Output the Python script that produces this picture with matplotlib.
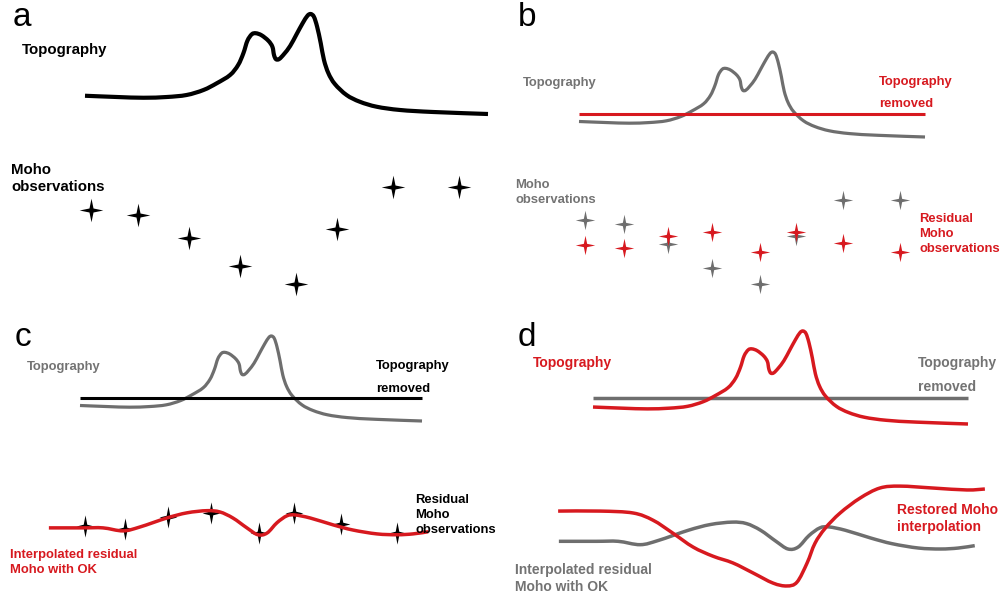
import numpy as np
import matplotlib
matplotlib.use("Agg")
import matplotlib.pyplot as plt
from matplotlib.path import Path
from matplotlib.patches import PathPatch

W, H = 1000, 600
RED = "#d7191f"
GRAY = "#6e6e6e"
GRAY_TXT = "#737373"
FONT = "Liberation Sans"

# Topographic profile: distance along profile (km) and elevation (km)
profile_km = [0, 7.9, 14.5, 20.3, 25.2, 29.4, 32.7, 36.0, 38.0, 39.3, 40.3,
              41.4, 42.4, 43.8, 45.5, 46.5, 46.9, 47.4, 48.2, 49.4, 50.9,
              52.5, 54.0, 55.2, 56.0, 56.8, 57.6, 58.5, 59.3, 60.4, 62.0,
              64.9, 68.2, 72.4, 78.2, 86.4, 100]
topo_elev = [0.73, 0.68, 0.65, 0.68, 0.76, 0.96, 1.23, 1.56, 1.96, 2.43,
             2.93, 3.19, 3.23, 3.15, 2.93, 2.69, 2.36, 2.19, 2.20, 2.40,
             2.72, 3.19, 3.63, 3.93, 4.00, 3.89, 3.49, 2.83, 2.16, 1.63,
             1.20, 0.76, 0.49, 0.29, 0.16, 0.08, 0.0]

# Mean elevation used as the removed topography level
ref_km = [0, 100]
ref_elev = [1.1, 1.1]

# Moho observations (depth, km) and residuals after topography removal
station_km = [1.6, 13.1, 25.7, 38.4, 52.3, 62.6, 76.4, 92.7]
moho_depth = [34.6, 35.6, 40.2, 45.8, 49.4, 38.4, 30.0, 30.0]
residual_depth = [40.4, 41.1, 38.3, 37.4, 42.0, 37.4, 39.9, 42.0]

# Ordinary kriging of the residual Moho
ok_km = [-9.1, 0.9, 6.7, 12.6, 17.5, 25.4, 31.3, 37.1, 40.9, 44.7, 48.8,
         52.0, 54.7, 57.6, 60.5, 62.9, 67.3, 74.0, 79.8, 86.8, 92.7, 97.4,
         101.8]
ok_depth = [40.9, 40.9, 40.9, 41.6, 40.7, 38.6, 37.4, 36.9, 37.2, 38.6,
            40.9, 42.5, 42.1, 39.7, 38.1, 37.9, 38.6, 40.2, 41.4, 42.3,
            42.5, 42.3, 41.8]

# Restored Moho interpolation
restored_km = [-9.3, 1.9, 10.7, 16.0, 21.3, 26.7, 32.0, 37.3, 42.7, 48.0,
               51.7, 54.4, 57.1, 59.2, 61.9, 65.9, 71.2, 76.5, 81.9, 90.7,
               99.7, 104.5]
restored_depth = [34.6, 34.6, 35.0, 36.5, 39.2, 42.1, 44.0, 45.4, 47.5,
                  49.6, 50.2, 49.4, 45.4, 41.3, 38.2, 35.0, 31.9, 29.8,
                  29.4, 29.8, 30.2, 30.0]

# placement of each panel: x-origin, px per km, topo baseline, px per km
# of elevation, Moho offset, px per km of depth
PLACE = {
    "a": (85, 4.03, 114, 25.0, 37.0, 5.0),
    "b": (579, 3.46, 137, 21.25, 71.2, 4.3),
    "c": (80, 3.42, 421, 21.25, 352.0, 4.3),
    "d": (593, 3.75, 424, 23.25, 345.0, 4.8),
}


def star_path(sx=1.0, sy=1.0, k=0.17):
    verts = [(0, sy), (k, k), (sx, 0), (k, -k), (0, -sy), (-k, -k),
             (-sx, 0), (-k, k), (0, sy)]
    codes = [Path.MOVETO] + [Path.LINETO] * 7 + [Path.CLOSEPOLY]
    return Path(verts, codes)


STAR = star_path()
STAR_TALL = star_path(0.8, 1.0, 0.16)

fig = plt.figure(figsize=(10, 6), dpi=100)


def panel_axes(key):
    x0, sx, ty0, tsy, mc, mk = PLACE[key]
    top = fig.add_axes([0, 0, 1, 1], label=key + "-topo")
    top.set_xlim(-x0 / sx, (W - x0) / sx)
    top.set_ylim((ty0 - H) / tsy, ty0 / tsy)
    top.axis("off")
    moho = fig.add_axes([0, 0, 1, 1], label=key + "-moho")
    moho.set_xlim(-x0 / sx, (W - x0) / sx)
    moho.set_ylim((H - mc) / mk, -mc / mk)
    moho.axis("off")
    return top, moho


def smooth(ax, x, y, color, lw, zorder=2):
    """Draw a Catmull-Rom curve through the given points as Bezier segments."""
    p = np.column_stack([x, y]).astype(float)
    n = len(p)
    verts, codes = [p[0]], [Path.MOVETO]
    for i in range(n - 1):
        p0 = p[max(i - 1, 0)]
        p1, p2 = p[i], p[i + 1]
        p3 = p[min(i + 2, n - 1)]
        verts += [p1 + (p2 - p0) / 6, p2 - (p3 - p1) / 6, p2]
        codes += [Path.CURVE4] * 3
    ax.add_patch(PathPatch(Path(verts, codes), fill=False, edgecolor=color,
                           lw=lw, capstyle="butt", joinstyle="round",
                           zorder=zorder))


def label(x, y, text, color="black", size=9.4, step=15, weight="bold"):
    for i, s in enumerate(text.split("\n")):
        fig.text(x / W, 1 - (y + i * step) / H, s, color=color,
                 fontsize=size, fontweight=weight, family=FONT,
                 ha="left", va="baseline")


line_kw = dict(solid_capstyle="butt", solid_joinstyle="round")

# ── a: topography and Moho observations ─────────────────────────────────
top, moho = panel_axes("a")
smooth(top, profile_km, topo_elev, "black", 3.0)
moho.plot(station_km, moho_depth, ls="none", marker=STAR, ms=17,
          mfc="black", mec="black", mew=0)
label(13, 26, "a", size=24, weight="normal")
label(22, 54, "Topography", size=10.8)
label(11, 174, "Moho\nobservations", size=10.8, step=17)

# ── b: topography removed, residual observations ────────────────────────
top, moho = panel_axes("b")
smooth(top, profile_km, topo_elev, GRAY, 2.3)
top.plot(ref_km, ref_elev, color=RED, lw=2.2, zorder=3, **line_kw)
moho.plot(station_km, moho_depth, ls="none", marker=STAR, ms=14,
          mfc=GRAY, mec=GRAY, mew=0)
moho.plot(station_km, residual_depth, ls="none", marker=STAR, ms=14,
          mfc=RED, mec=RED, mew=0)
label(518, 26, "b", size=24, weight="normal")
label(523, 86, "Topography", color=GRAY_TXT)
label(879, 85, "Topography\nremoved", color=RED, step=22)
label(515, 188, "Moho\nobservations", color=GRAY_TXT)
label(919, 222, "Residual\nMoho\nobservations", color=RED)

# ── c: kriging of the residual Moho ─────────────────────────────────────
top, moho = panel_axes("c")
smooth(top, profile_km, topo_elev, GRAY, 2.3)
top.plot(ref_km, ref_elev, color="black", lw=2.2, zorder=3, **line_kw)
moho.plot(station_km, residual_depth, ls="none", marker=STAR_TALL, ms=16,
          mfc="black", mec="black", mew=0, zorder=2)
smooth(moho, ok_km, ok_depth, RED, 2.5, zorder=3)
label(15, 346, "c", size=24, weight="normal")
label(27, 370, "Topography", color=GRAY_TXT)
label(376, 369, "Topography\nremoved", step=23)
label(415, 503, "Residual\nMoho\nobservations")
label(10, 558, "Interpolated residual\nMoho with OK", color=RED)

# ── d: restoring the topographic signal ─────────────────────────────────
top, moho = panel_axes("d")
top.plot(ref_km, ref_elev, color=GRAY, lw=2.5, **line_kw)
smooth(top, profile_km, topo_elev, RED, 2.5, zorder=3)
smooth(moho, ok_km, ok_depth, GRAY, 2.5)
smooth(moho, restored_km, restored_depth, RED, 2.5, zorder=3)
label(518, 346, "d", size=24, weight="normal")
label(533, 367, "Topography", color=RED, size=10)
label(918, 367, "Topography\nremoved", color=GRAY_TXT, size=10, step=24)
label(897, 514, "Restored Moho\ninterpolation", color=RED, size=10, step=17)
label(515, 574, "Interpolated residual\nMoho with OK", color=GRAY_TXT,
      size=10, step=17)

fig.savefig("out.png", dpi=100)
